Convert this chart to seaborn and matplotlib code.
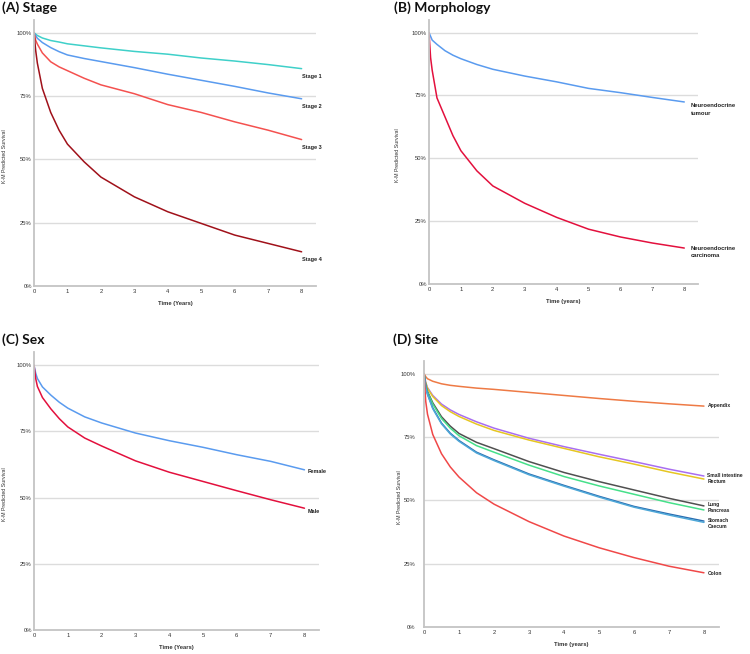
"""
Kaplan-Meier predicted survival by stage, morphology, sex and site.
"""

import matplotlib
matplotlib.use("Agg")
import matplotlib.pyplot as plt
import pandas as pd
import seaborn as sns
from matplotlib.ticker import FuncFormatter

# 1. Data (survival in %)
time = [0, 0.05, 0.1, 0.25, 0.5, 0.75, 1, 1.5, 2, 3, 4, 5, 6, 7, 8]

stage_groups = ['Stage 1', 'Stage 2', 'Stage 3', 'Stage 4']
stage1 = [100, 99.4, 98.9, 97.9, 96.9, 96.3, 95.6, 94.8, 94.0, 92.6, 91.5, 90.0, 88.8, 87.4, 85.8]
stage2 = [100, 98.8, 97.8, 96.1, 94.1, 92.5, 91.2, 89.8, 88.6, 86.2, 83.6, 81.2, 78.8, 76.2, 73.9]
stage3 = [100, 97.0, 95.5, 92.0, 88.5, 86.5, 85.0, 82.0, 79.4, 75.9, 71.6, 68.5, 64.8, 61.5, 57.8]
stage4 = [100, 93.0, 88.0, 78.0, 68.5, 61.5, 56.0, 49.0, 43.0, 35.2, 29.3, 24.7, 20.1, 16.8, 13.5]

morph_groups = ['Neuroendocrine\ntumour', 'Neuroendocrine\ncarcinoma']
net = [100, 98.5, 97.0, 95.3, 92.8, 91.0, 89.6, 87.3, 85.4, 82.7, 80.4, 77.8, 76.1, 74.2, 72.4]
nec = [100, 90.0, 85.0, 74.0, 66.5, 59.0, 53.0, 45.0, 39.0, 32.1, 26.5, 21.8, 18.7, 16.3, 14.3]

sex_groups = ['Female', 'Male']
female = [100, 97.0, 95.0, 91.8, 88.7, 86.0, 83.8, 80.5, 78.2, 74.4, 71.5, 69.0, 66.2, 63.7, 60.5]
male = [100, 95.0, 92.0, 87.8, 83.5, 79.8, 76.7, 72.5, 69.5, 63.9, 59.6, 56.1, 52.6, 49.2, 46.0]

site_groups = ['Appendix', 'Small intestine', 'Rectum', 'Lung', 'Pancreas', 'Stomach', 'Caecum', 'Colon']
appendix = [100, 98.8, 98.0, 97.0, 96.0, 95.4, 95.0, 94.3, 93.8, 92.6, 91.4, 90.2, 89.1, 88.1, 87.2]
small_intestine = [100, 96.5, 94.5, 91.4, 88.0, 85.7, 83.9, 81.0, 78.5, 74.5, 71.2, 68.2, 65.3, 62.3, 59.6]
rectum = [100, 96.3, 94.2, 91.0, 87.4, 85.0, 83.1, 80.1, 77.6, 73.8, 70.5, 67.2, 64.3, 61.2, 58.4]
lung = [100, 95.5, 93.0, 88.5, 83.0, 79.3, 76.4, 72.9, 70.4, 65.3, 61.0, 57.4, 54.1, 50.8, 47.8]
pancreas = [100, 95.3, 92.7, 88.0, 82.3, 78.5, 75.5, 71.6, 69.0, 63.9, 59.4, 55.7, 52.4, 49.1, 46.2]
stomach = [100, 94.8, 92.0, 86.5, 80.5, 76.5, 73.6, 69.0, 66.0, 60.4, 55.9, 51.6, 47.6, 44.6, 41.8]
caecum = [100, 94.6, 91.8, 86.2, 80.2, 76.2, 73.3, 68.7, 65.7, 60.1, 55.6, 51.3, 47.3, 44.2, 41.3]
colon = [100, 89.0, 84.0, 76.0, 68.4, 63.2, 59.2, 53.0, 48.5, 41.6, 35.9, 31.3, 27.4, 24.0, 21.4]

# 2. Figure
sns.set_theme(style="white")
plt.rcParams['font.family'] = ['Liberation Sans', 'DejaVu Sans']

W, H = 750, 654
fig = plt.figure(figsize=(W / 100, H / 100), dpi=100)


def px_rect(left, top, right, bottom):
    return [left / W, 1 - bottom / H, (right - left) / W, (bottom - top) / H]


def to_frame(groups, series):
    parts = [pd.DataFrame({'time': time, 'survival': s, 'group': g})
             for g, s in zip(groups, series)]
    return pd.concat(parts, ignore_index=True)


def draw_panel(rect, groups, series, colors, label_y, label_x, label_size,
               xlabel, ylabel_x, ytick_pad):
    ax = fig.add_axes(rect)
    df = to_frame(groups, series)
    sns.lineplot(data=df, x='time', y='survival', hue='group', hue_order=groups,
                 palette=dict(zip(groups, colors)), legend=False, lw=1.1,
                 estimator=None, ax=ax)
    ax.set_xlim(0, 8.43)
    ax.set_ylim(0, 105)
    ax.set_xticks(range(9))
    ax.set_yticks([0, 25, 50, 75, 100])
    ax.yaxis.set_major_formatter(FuncFormatter(lambda v, p: f"{v:.0f}%"))
    for v in [25, 50, 75, 100]:
        ax.axhline(v, color='#dcdcdc', lw=1.0, zorder=0)
    sns.despine(ax=ax)
    for side in ['left', 'bottom']:
        ax.spines[side].set_color('#c4c4c4')
        ax.spines[side].set_linewidth(1.3)
    ax.tick_params(axis='both', length=0, labelsize=4.2, colors='#333333')
    ax.tick_params(axis='y', pad=ytick_pad)
    ax.tick_params(axis='x', pad=2.5)
    ax.set_xlabel(xlabel, fontsize=4.2, fontweight='bold', color='#333333', labelpad=5)
    ax.set_ylabel('K-M Predicted Survival', fontsize=3.8, color='#333333')
    ax.yaxis.set_label_coords(ylabel_x, 0.49)
    for g, y in zip(groups, label_y):
        ax.text(label_x, y, g, fontsize=label_size, fontweight='bold',
                color='#222222', va='center', ha='left', clip_on=False,
                linespacing=1.6)
    return ax


# (A) Stage
draw_panel(px_rect(34, 20, 316, 286), stage_groups,
           [stage1, stage2, stage3, stage4],
           ['#3FD0C9', '#5A9BEF', '#F4514F', '#A0111A'],
           [82.7, 70.9, 54.7, 10.6], 8.02, 4.0, 'Time (Years)', -0.096, 1.5)

# (B) Morphology
draw_panel(px_rect(429, 20, 698, 284), morph_groups, [net, nec],
           ['#5A9BEF', '#E3103D'],
           [69.4, 12.7], 8.2, 4.2, 'Time (years)', -0.108, 1.5)

# (C) Sex
draw_panel(px_rect(34, 352, 319, 630), sex_groups, [female, male],
           ['#5A9BEF', '#E3103D'],
           [59.8, 44.7], 8.1, 4.0, 'Time (Years)', -0.095, 1.5)

# (D) Site
draw_panel(px_rect(424, 361, 719, 627), site_groups,
           [appendix, small_intestine, rectum, lung, pancreas, stomach, caecum, colon],
           ['#EE7A45', '#A96EF0', '#E6C622', '#505050', '#46E08A', '#2A6CB0', '#4FA8D8', '#F04848'],
           [87.4, 59.9, 57.6, 48.3, 46.1, 42.0, 39.8, 21.3], 8.1, 3.6, 'Time (years)', -0.076, 6.0)

# panel titles
title_font = dict(fontsize=10, fontweight='bold', family=['Lato', 'DejaVu Sans'],
                  va='center', ha='left', color='#111111')
fig.text(2 / W, 1 - 8 / H, '(A) Stage', **title_font)
fig.text(394 / W, 1 - 8 / H, '(B) Morphology', **title_font)
fig.text(2 / W, 1 - 340 / H, '(C) Sex', **title_font)
fig.text(393 / W, 1 - 340 / H, '(D) Site', **title_font)

fig.savefig('out.png', dpi=100)
